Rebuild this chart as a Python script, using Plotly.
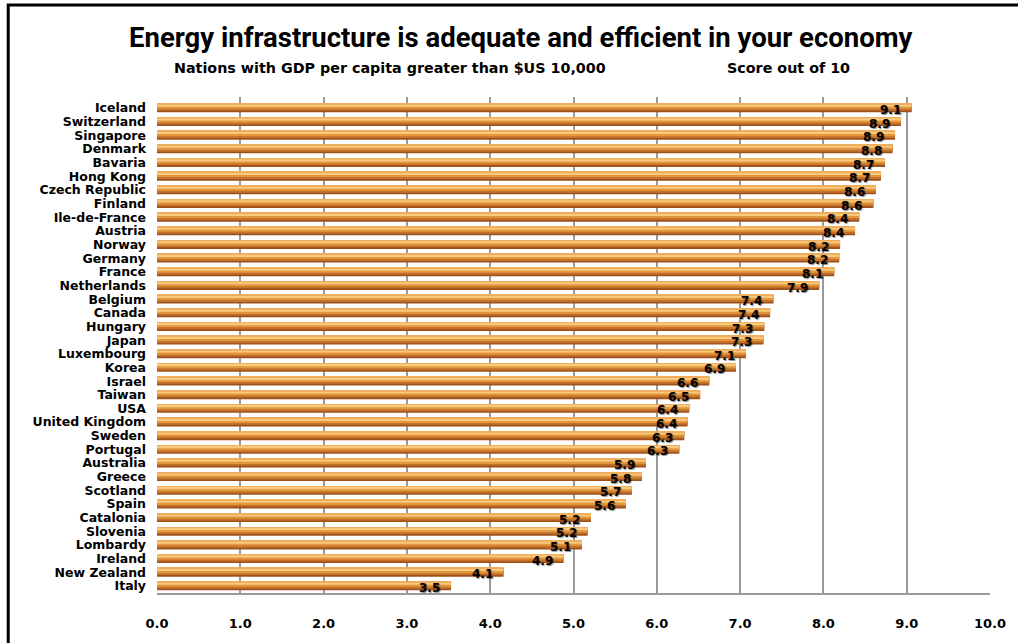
import plotly.graph_objects as go

countries = ["Iceland", "Switzerland", "Singapore", "Denmark", "Bavaria", "Hong Kong",
             "Czech Republic", "Finland", "Ile-de-France", "Austria", "Norway", "Germany",
             "France", "Netherlands", "Belgium", "Canada", "Hungary", "Japan", "Luxembourg",
             "Korea", "Israel", "Taiwan", "USA", "United Kingdom", "Sweden", "Portugal",
             "Australia", "Greece", "Scotland", "Spain", "Catalonia", "Slovenia", "Lombardy",
             "Ireland", "New Zealand", "Italy"]
scores = [9.06, 8.93, 8.86, 8.83, 8.74, 8.69, 8.63, 8.60, 8.43, 8.38, 8.20, 8.19,
          8.13, 7.95, 7.40, 7.36, 7.29, 7.28, 7.07, 6.95, 6.63, 6.52, 6.39, 6.37,
          6.33, 6.27, 5.87, 5.82, 5.70, 5.63, 5.21, 5.17, 5.10, 4.88, 4.16, 3.53]
labels = ["9.1", "8.9", "8.9", "8.8", "8.7", "8.7", "8.6", "8.6", "8.4", "8.4", "8.2", "8.2",
          "8.1", "7.9", "7.4", "7.4", "7.3", "7.3", "7.1", "6.9", "6.6", "6.5", "6.4", "6.4",
          "6.3", "6.3", "5.9", "5.8", "5.7", "5.6", "5.2", "5.2", "5.1", "4.9", "4.1", "3.5"]
x_ticks = [0, 1, 2, 3, 4, 5, 6, 7, 8, 9, 10]
x_tick_text = ["0.0", "1.0", "2.0", "3.0", "4.0", "5.0", "6.0", "7.0", "8.0", "9.0", "10.0"]

title_text = "Energy infrastructure is adequate and efficient in your economy"
subtitle_left = "Nations with GDP per capita greater than $US 10,000"
subtitle_right = "Score out of 10"

fig = go.Figure()

# cylinder-like bar made of overlaid layers (offset/width in category units)
layers = [
    ("#9E501A", -0.32, 0.64),
    ("#C2722D", -0.32, 0.52),
    ("#E3963C", -0.32, 0.38),
    ("#F9C97E", -0.25, 0.16),
    ("#EFAE5E", -0.32, 0.05),
]
for color, off, w in layers:
    fig.add_trace(go.Bar(
        x=scores, y=countries, orientation="h",
        marker=dict(color=color, line=dict(width=0)),
        offset=off, width=w, hoverinfo="skip", showlegend=False,
    ))

for c, v, t in zip(countries, scores, labels):
    fig.add_annotation(x=v, y=c, text="<b>%s</b>" % t, showarrow=False,
                       xanchor="right", yanchor="middle", xshift=-9, yshift=-2,
                       font=dict(family="DejaVu Sans", size=12, color="#000000",
                                 shadow="1px 1px 1px rgba(0,0,0,0.45)"))

fig.add_annotation(xref="paper", yref="paper", x=0.4375, y=1.12, xanchor="center", yanchor="middle",
                   text="<b>%s</b>" % title_text, showarrow=False,
                   font=dict(family="Roboto", size=27.5, color="#000000"))
fig.add_annotation(xref="paper", yref="paper", x=0.28, y=1.058, xanchor="center", yanchor="middle",
                   text="<b>%s</b>" % subtitle_left, showarrow=False,
                   font=dict(family="DejaVu Sans", size=14.3, color="#000000"))
fig.add_annotation(xref="paper", yref="paper", x=0.758, y=1.058, xanchor="center", yanchor="middle",
                   text="<b>%s</b>" % subtitle_right, showarrow=False,
                   font=dict(family="DejaVu Sans", size=14.3, color="#000000"))

# outer frame (cut by the right and bottom edges like the reference)
fig.add_shape(type="rect", xref="paper", yref="paper",
              x0=-0.1786, x1=1.06, y0=-0.15, y1=1.1855,
              line=dict(color="#000000", width=3), fillcolor="rgba(0,0,0,0)", layer="above")

fig.update_layout(
    width=1018, height=643,
    margin=dict(l=157, r=21, t=97, b=50),
    paper_bgcolor="white", plot_bgcolor="white",
    barmode="overlay",
    xaxis=dict(range=[0, 10], tickvals=x_ticks, ticktext=["<b>%s</b>" % s for s in x_tick_text],
               showgrid=True, gridcolor="#9A9A9A", gridwidth=1.5,
               showline=True, linecolor="#9A9A9A", linewidth=1.5,
               zeroline=False, ticks="", ticklabelstandoff=18,
               tickfont=dict(family="DejaVu Sans", size=13, color="#000000"), fixedrange=True),
    yaxis=dict(autorange="reversed", type="category", showgrid=False, zeroline=False,
               ticks="", ticklabelstandoff=10,
               tickfont=dict(family="DejaVu Sans", size=12.5, color="#000000"),
               tickmode="array", tickvals=countries,
               ticktext=["<b>%s</b>" % c for c in countries], fixedrange=True),
)

fig.write_html("out.html")
